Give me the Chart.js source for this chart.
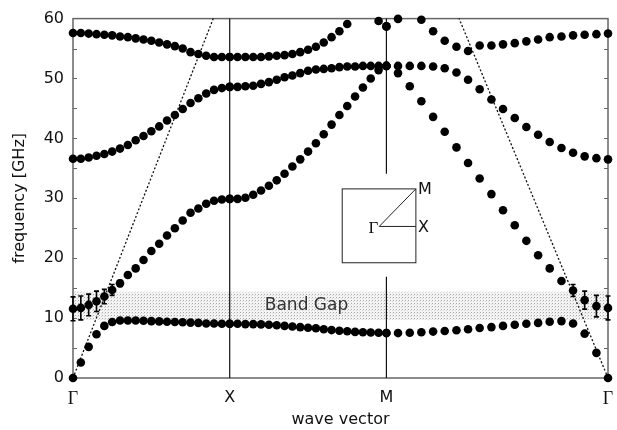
<!DOCTYPE html>
<html>
<head>
<meta charset="utf-8">
<script src="https://cdn.jsdelivr.net/npm/chart.js@4/dist/chart.umd.min.js"></script>
<style>
  body { margin: 0; background: #fff; }
</style>
</head>
<body>
<canvas id="bands" width="617" height="430"></canvas>
<script>
// wave vector along the path: Γ = 0, X = 1, M = 2, Γ = 2 + √2
const kGX = [0, 0.05, 0.1, 0.15, 0.2, 0.25, 0.3, 0.35, 0.4, 0.45, 0.5, 0.55, 0.6, 0.65, 0.7, 0.75, 0.8, 0.85, 0.9, 0.95, 1];
const kXM = [1, 1.05, 1.1, 1.15, 1.2, 1.25, 1.3, 1.35, 1.4, 1.45, 1.5, 1.55, 1.6, 1.65, 1.7, 1.75, 1.8, 1.85, 1.9, 1.95, 2];
const kMG = [2, 2.074, 2.149, 2.223, 2.298, 2.372, 2.447, 2.521, 2.595, 2.670, 2.744, 2.819, 2.893, 2.968, 3.042, 3.117, 3.191, 3.265, 3.340, 3.414];

const tickPos = [0, 1, 2, 3.414];
const tickLabels = ['Γ', 'X', 'M', 'Γ'];
const freqTicks = [0, 10, 20, 30, 40, 50, 60];

// frequencies in GHz, one array per band and path segment (null = above 60 GHz)
const band1GX = [0, 2.6, 5.2, 7.3, 8.7, 9.35, 9.6, 9.6, 9.6, 9.55, 9.5, 9.45, 9.4, 9.35, 9.3, 9.25, 9.2, 9.1, 9.1, 9.05, 9.05];
const band1XM = [9.05, 9.05, 9.0, 9.0, 8.95, 8.9, 8.8, 8.7, 8.6, 8.5, 8.4, 8.3, 8.15, 8.0, 7.9, 7.8, 7.7, 7.65, 7.6, 7.55, 7.5];
const band1MG = [7.5, 7.5, 7.55, 7.65, 7.75, 7.85, 7.97, 8.15, 8.35, 8.5, 8.7, 8.9, 9.05, 9.2, 9.4, 9.5, 9.1, 7.4, 4.2, 0];

const band2GX = [11.55, 11.7, 12.2, 12.8, 13.6, 14.7, 15.8, 17.2, 18.3, 19.7, 21.2, 22.4, 23.8, 25.0, 26.3, 27.6, 28.3, 29.1, 29.6, 29.8, 29.9];
const band2XM = [29.9, 29.9, 30.1, 30.6, 31.3, 32.1, 33.0, 34.1, 35.3, 36.5, 37.8, 39.2, 40.7, 42.3, 43.9, 45.4, 47.0, 48.5, 50.0, 51.4, 52.1];
const band2MG = [52.1, 50.9, 48.7, 46.2, 43.6, 41.1, 38.5, 35.9, 33.3, 30.7, 28.0, 25.5, 22.9, 20.5, 18.3, 16.2, 14.6, 13.0, 12.0, 11.7];

const band3GX = [36.6, 36.6, 36.8, 37.1, 37.4, 37.8, 38.3, 38.9, 39.7, 40.4, 41.2, 42.0, 43.0, 43.9, 44.9, 45.9, 46.7, 47.5, 48.1, 48.4, 48.6];
const band3XM = [48.6, 48.6, 48.7, 48.8, 49.1, 49.4, 49.8, 50.2, 50.5, 50.9, 51.3, 51.5, 51.6, 51.7, 51.9, 52.0, 52.0, 52.1, 52.1, 52.1, 52.1];
const band3MG = [52.1, 52.1, 52.1, 52.1, 52.0, 51.7, 51.0, 49.8, 48.2, 46.5, 44.9, 43.4, 41.9, 40.6, 39.4, 38.4, 37.6, 37.0, 36.7, 36.5];

const band4GX = [57.6, 57.6, 57.5, 57.4, 57.3, 57.2, 57.0, 56.9, 56.7, 56.5, 56.3, 56.0, 55.7, 55.4, 55.0, 54.4, 54.1, 53.8, 53.6, 53.6, 53.6];
const band4XM = [53.6, 53.6, 53.6, 53.6, 53.6, 53.7, 53.8, 53.9, 54.1, 54.4, 54.8, 55.3, 56.0, 56.9, 57.9, 59.1, null, null, null, 59.6, 58.7];
const band4MG = [58.7, 59.95, null, 59.8, 57.9, 56.3, 55.3, 54.6, 55.5, 55.5, 55.7, 55.9, 56.2, 56.5, 56.9, 57.0, 57.2, 57.3, 57.4, 57.5];

// measured error bars (± GHz) on band 2 near Γ
const errGX = [2.0, 2.0, 1.8, 1.7, 1.2, 0.9, 0.5];       // first points of band2GX
const errMG = [1.0, 1.5, 1.8, 2.0];                       // last points of band2MG

// light lines (k, f) and band gap limits
const lightLeftK = [0, 0.895];
const lightLeftF = [0, 60];
const lightRightK = [3.414, 2.464];
const lightRightF = [0, 60];
const gapRange = [9.7, 14.4];

const sans = '"DejaVu Sans", sans-serif';
const serif = '"Liberation Serif", "DejaVu Serif", serif';

const pts = (k, f) => k.map((x, i) => ({ x: x, y: f[i] })).filter(p => p.y !== null);

const bands = [
  [...pts(kGX, band1GX), ...pts(kXM, band1XM), ...pts(kMG, band1MG)],
  [...pts(kGX, band2GX), ...pts(kXM, band2XM), ...pts(kMG, band2MG)],
  [...pts(kGX, band3GX), ...pts(kXM, band3XM), ...pts(kMG, band3MG)],
  [...pts(kGX, band4GX), ...pts(kXM, band4XM), ...pts(kMG, band4MG)]
];

const gapPattern = (ctx) => {
  const c = document.createElement('canvas');
  c.width = 3; c.height = 3;
  const p = c.getContext('2d');
  p.fillStyle = '#f4f4f4';
  p.fillRect(0, 0, 3, 3);
  p.fillStyle = '#a8a8a8';
  p.fillRect(0, 0, 1, 1);
  p.fillStyle = '#d8d8d8';
  p.fillRect(2, 1, 1, 1);
  return ctx.createPattern(c, 'repeat');
};

const decor = {
  id: 'decor',
  beforeDatasetsDraw(chart) {
    const { ctx, chartArea: a, scales: { x, y } } = chart;
    ctx.save();
    // band gap
    const gt = y.getPixelForValue(gapRange[1]);
    const gb = y.getPixelForValue(gapRange[0]);
    ctx.fillStyle = gapPattern(ctx);
    ctx.fillRect(a.left, gt, a.right - a.left, gb - gt);
    ctx.fillStyle = '#333';
    ctx.font = '17px ' + sans;
    ctx.textAlign = 'center';
    ctx.textBaseline = 'middle';
    ctx.fillText('Band Gap', x.getPixelForValue(1.49), y.getPixelForValue(12.1));

    // frame
    ctx.strokeStyle = '#666';
    ctx.lineWidth = 1.5;
    ctx.strokeRect(a.left, a.top, a.right - a.left, a.bottom - a.top);
    // small inward ticks
    ctx.lineWidth = 1;
    for (let v = 5; v < 60; v += 5) {
      const py = Math.round(y.getPixelForValue(v)) + 0.5;
      ctx.beginPath();
      ctx.moveTo(a.left, py); ctx.lineTo(a.left + 4, py);
      ctx.moveTo(a.right, py); ctx.lineTo(a.right - 4, py);
      ctx.stroke();
    }

    // symmetry point lines at X and M
    ctx.strokeStyle = '#111';
    ctx.lineWidth = 1.2;
    const px = x.getPixelForValue(1);
    const pm = x.getPixelForValue(2);
    ctx.beginPath();
    ctx.moveTo(px, a.top); ctx.lineTo(px, a.bottom);
    ctx.moveTo(pm, a.top); ctx.lineTo(pm, y.getPixelForValue(34.1));
    ctx.moveTo(pm, y.getPixelForValue(16.9)); ctx.lineTo(pm, a.bottom);
    ctx.stroke();

    // light lines
    ctx.setLineDash([2, 2]);
    ctx.lineWidth = 1.3;
    ctx.beginPath();
    ctx.moveTo(x.getPixelForValue(lightLeftK[0]), y.getPixelForValue(lightLeftF[0]));
    ctx.lineTo(x.getPixelForValue(lightLeftK[1]), y.getPixelForValue(lightLeftF[1]));
    ctx.moveTo(x.getPixelForValue(lightRightK[0]), y.getPixelForValue(lightRightF[0]));
    ctx.lineTo(x.getPixelForValue(lightRightK[1]), y.getPixelForValue(lightRightF[1]));
    ctx.stroke();
    ctx.restore();
  },
  afterDatasetsDraw(chart) {
    const { ctx, scales: { x, y } } = chart;
    ctx.save();
    // error bars
    ctx.strokeStyle = '#000';
    ctx.lineWidth = 1.6;
    const bar = (k, f, e) => {
      const cx = x.getPixelForValue(k);
      const t = y.getPixelForValue(f + e), b = y.getPixelForValue(f - e);
      ctx.beginPath();
      ctx.moveTo(cx, t); ctx.lineTo(cx, b);
      ctx.moveTo(cx - 2.5, t); ctx.lineTo(cx + 2.5, t);
      ctx.moveTo(cx - 2.5, b); ctx.lineTo(cx + 2.5, b);
      ctx.stroke();
    };
    errGX.forEach((e, i) => bar(kGX[i], band2GX[i], e));
    const off = kMG.length - errMG.length;
    errMG.forEach((e, i) => bar(kMG[off + i], band2MG[off + i], e));

    // Brillouin zone inset
    const bx0 = x.getPixelForValue(1.718), bx1 = x.getPixelForValue(2.188);
    const by0 = y.getPixelForValue(31.57), by1 = y.getPixelForValue(19.24);
    const gx = x.getPixelForValue(1.954), gy = y.getPixelForValue(25.3);
    ctx.lineWidth = 1;
    ctx.strokeStyle = '#222';
    ctx.strokeRect(bx0, by0, bx1 - bx0, by1 - by0);
    ctx.beginPath();
    ctx.moveTo(gx, gy); ctx.lineTo(bx1, by0);
    ctx.moveTo(gx, gy); ctx.lineTo(bx1, gy);
    ctx.stroke();
    ctx.fillStyle = '#111';
    ctx.textBaseline = 'middle';
    ctx.textAlign = 'left';
    ctx.font = '16px ' + sans;
    ctx.fillText('M', bx1 + 2, by0 + 1);
    ctx.fillText('X', bx1 + 2, gy + 1);
    ctx.textAlign = 'right';
    ctx.font = '17px ' + serif;
    ctx.fillText('Γ', gx - 1, gy + 2);
    ctx.restore();
  }
};

new Chart(document.getElementById('bands'), {
  type: 'scatter',
  data: {
    datasets: bands.map((b, i) => ({
      label: 'band ' + (i + 1),
      data: b,
      pointRadius: 4.3,
      pointHoverRadius: 4.3,
      pointBackgroundColor: '#000',
      pointBorderColor: '#000',
      pointBorderWidth: 0,
      showLine: false,
      clip: false
    }))
  },
  options: {
    responsive: false,
    animation: false,
    devicePixelRatio: 1,
    layout: { padding: { top: 15, right: 9, left: 0, bottom: 0 } },
    plugins: { legend: { display: false }, tooltip: { enabled: false } },
    scales: {
      x: {
        type: 'linear',
        min: 0,
        max: 3.414,
        afterBuildTicks: s => { s.ticks = tickPos.map(v => ({ value: v })); },
        afterFit: s => { s.height = 52; s.paddingLeft = 0; s.paddingRight = 0; },
        grid: { display: false, drawTicks: false },
        border: { display: false },
        ticks: {
          autoSkip: false,
          maxRotation: 0,
          padding: 10,
          color: '#111',
          callback: (v, i) => tickLabels[i],
          font: c => (tickLabels[c.index] === 'Γ' ? { family: serif, size: 18 } : { family: sans, size: 16 })
        },
        title: {
          display: true,
          text: 'wave vector',
          color: '#111',
          font: { family: sans, size: 16 },
          padding: { top: 0, bottom: 1 }
        }
      },
      y: {
        min: 0,
        max: 60,
        afterBuildTicks: s => { s.ticks = freqTicks.map(v => ({ value: v })); },
        afterFit: s => { s.width = 73; },
        grid: { display: false, drawTicks: false },
        border: { display: false },
        ticks: {
          padding: 9,
          color: '#111',
          font: { family: sans, size: 16 }
        },
        title: {
          display: true,
          text: 'frequency [GHz]',
          color: '#111',
          font: { family: sans, size: 16 },
          padding: { top: 10, bottom: 0 }
        }
      }
    }
  },
  plugins: [decor]
});
</script>
</body>
</html>
